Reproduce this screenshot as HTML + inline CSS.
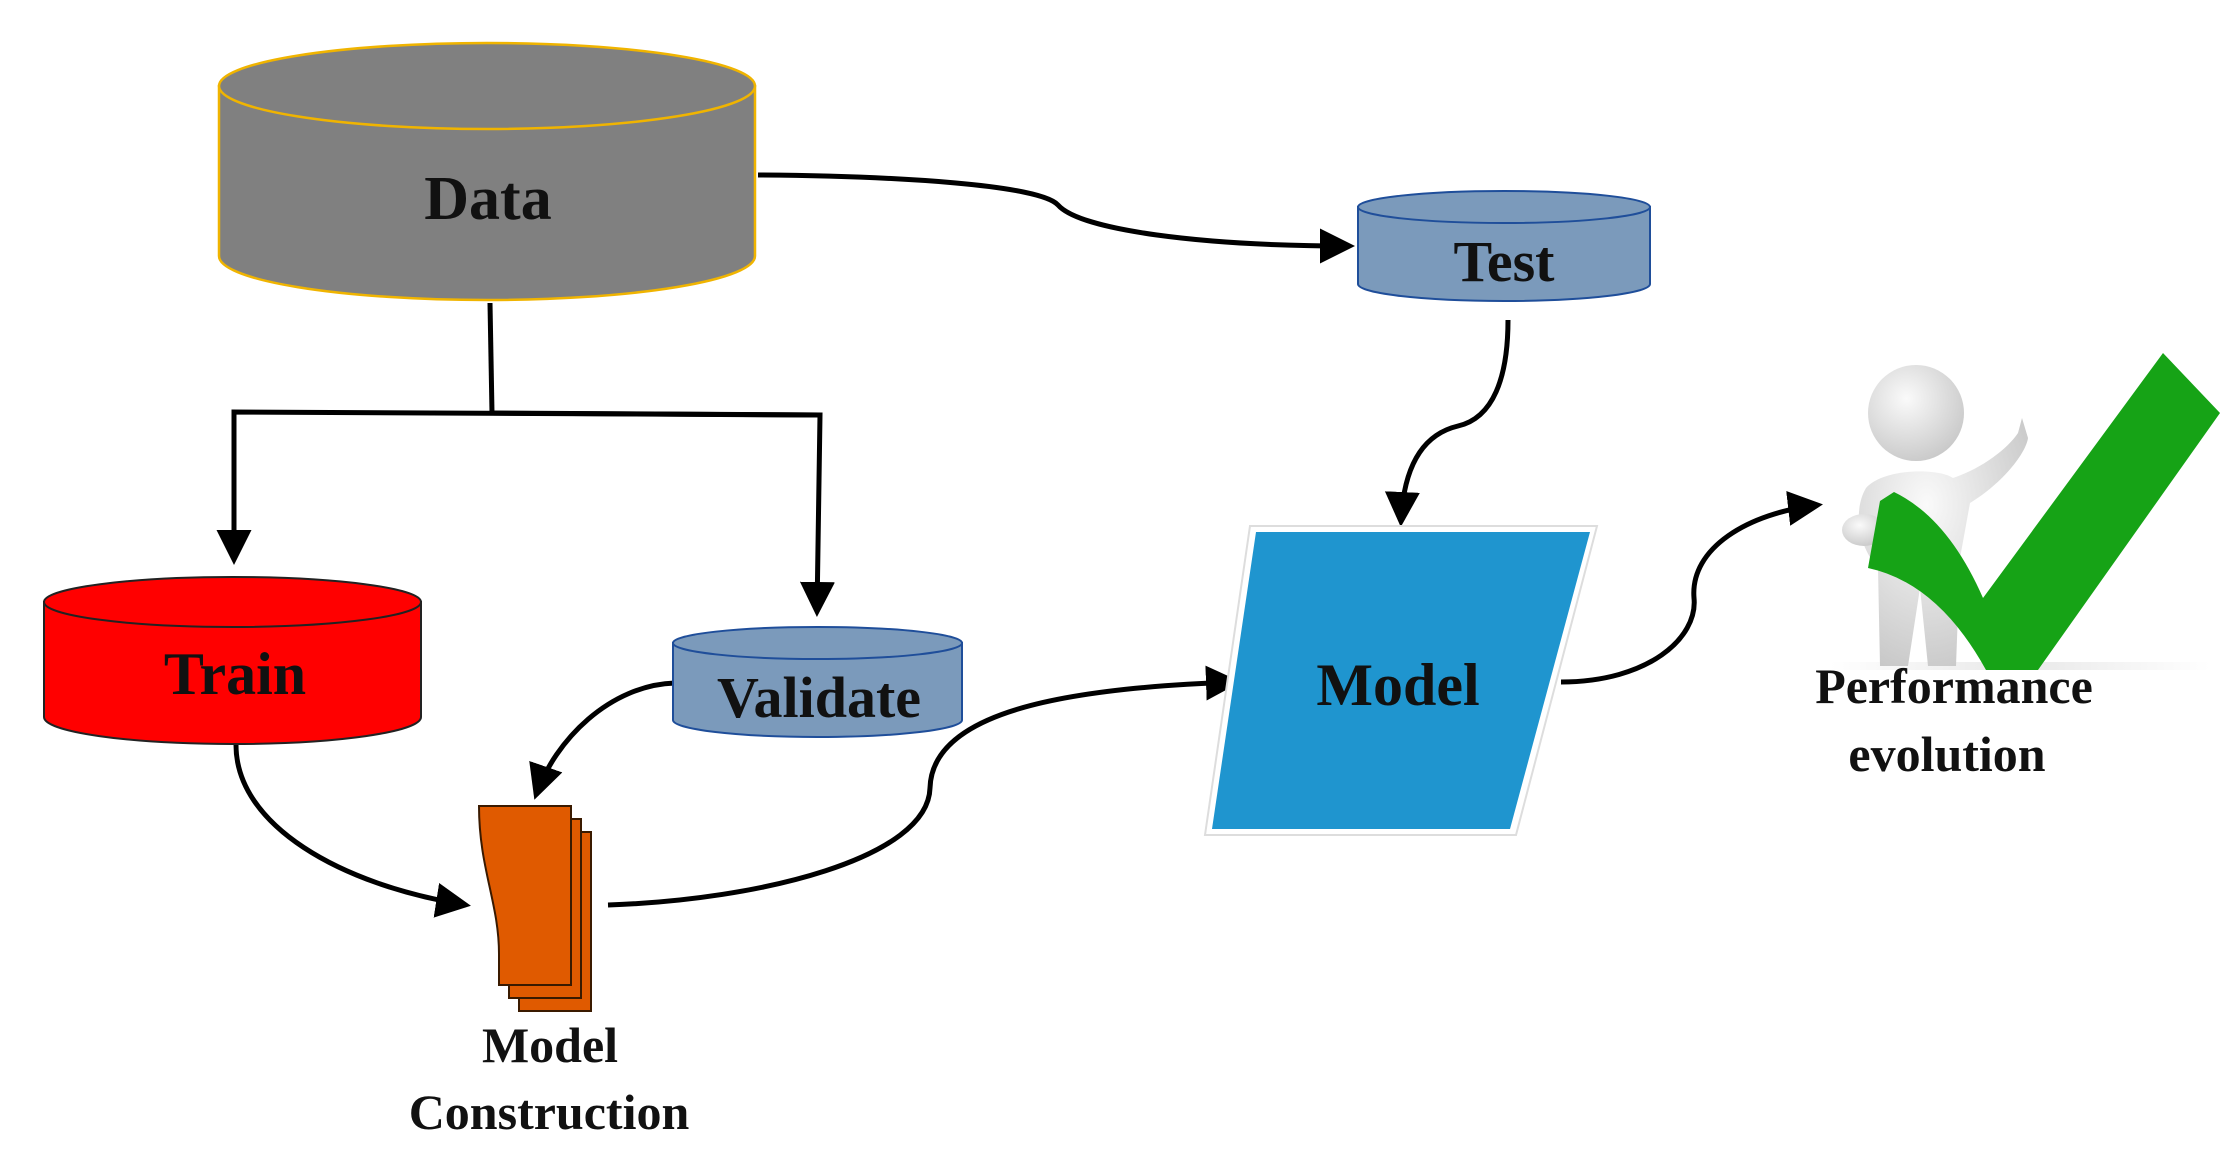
<!DOCTYPE html>
<html><head><meta charset="utf-8"><style>
html,body{margin:0;padding:0;background:#fff;}
svg{display:block;}
text{font-family:"Liberation Serif",serif;font-weight:bold;fill:#111;}
</style></head><body>
<svg width="2232" height="1168" viewBox="0 0 2232 1168" xmlns="http://www.w3.org/2000/svg">
<defs>
<marker id="ah" markerWidth="8" markerHeight="8" refX="6" refY="4" orient="auto" markerUnits="strokeWidth">
<path d="M0,0.5 L7,4 L0,7.5 Z" fill="#000"/></marker>
<radialGradient id="pg" cx="40%" cy="35%" r="70%"><stop offset="0" stop-color="#fafafa"/><stop offset="1" stop-color="#c8c8c8"/></radialGradient>
<linearGradient id="fl" x1="0" x2="1"><stop offset="0" stop-color="#fff"/><stop offset="0.5" stop-color="#e8e8e8"/><stop offset="1" stop-color="#fff"/></linearGradient>
</defs>

<!-- connectors -->
<g fill="none" stroke="#000" stroke-width="5">
<path d="M490,303 L492,413"/>
<path d="M820,415 L234,412 L234,560" marker-end="url(#ah)"/>
<path d="M492,413 L820,415 L817,612" marker-end="url(#ah)"/>
<path d="M758,175 C900,176 1040,185 1058,205 C1080,230 1200,246 1350,246" marker-end="url(#ah)"/>
<path d="M1508,320 C1508,378 1493,418 1458,426 C1416,436 1403,478 1401,522" marker-end="url(#ah)"/>
<path d="M675,683 C610,685 555,740 536,795" marker-end="url(#ah)"/>
<path d="M236,745 C236,825 340,885 466,905" marker-end="url(#ah)"/>
<path d="M608,905 C760,900 928,858 930,788 C932,713 1060,688 1236,682" marker-end="url(#ah)"/>
<path d="M1561,682 C1648,682 1698,638 1694,598 C1690,548 1748,513 1818,505" marker-end="url(#ah)"/>
</g>

<!-- Data cylinder -->
<path d="M219,86 L219,256 A268,44 0 0 0 755,256 L755,86 Z" fill="#808080" stroke="#f0b400" stroke-width="2.5"/>
<ellipse cx="487" cy="86" rx="268" ry="43" fill="#808080" stroke="#f0b400" stroke-width="2.5"/>
<text x="488" y="219" font-size="62" text-anchor="middle">Data</text>

<!-- Train -->
<path d="M44,602 L44,717 A188.5,27 0 0 0 421,717 L421,602 Z" fill="#ff0000" stroke="#222" stroke-width="2"/>
<ellipse cx="232.5" cy="602" rx="188.5" ry="25" fill="#ff0000" stroke="#222" stroke-width="2"/>
<text x="235" y="694" font-size="60" text-anchor="middle">Train</text>

<!-- Validate -->
<path d="M673,643 L673,720 A144.5,17 0 0 0 962,720 L962,643 Z" fill="#7b9abb" stroke="#1f4e9a" stroke-width="2"/>
<ellipse cx="817.5" cy="643" rx="144.5" ry="16" fill="#7b9abb" stroke="#1f4e9a" stroke-width="2"/>
<text x="819" y="717" font-size="58" text-anchor="middle">Validate</text>

<!-- Test -->
<path d="M1358,207 L1358,284 A146,17 0 0 0 1650,284 L1650,207 Z" fill="#7b9abb" stroke="#1f4e9a" stroke-width="2"/>
<ellipse cx="1504" cy="207" rx="146" ry="16" fill="#7b9abb" stroke="#1f4e9a" stroke-width="2"/>
<text x="1504" y="281" font-size="58" text-anchor="middle">Test</text>

<!-- Model construction stack -->
<g fill="#e05a00" stroke="#3a1a00" stroke-width="2">
<path d="M499,832 L591,832 L591,1011 L519,1011 L519,980 C519,938 499,898 499,832 Z"/>
<path d="M489,819 L581,819 L581,998 L509,998 L509,967 C509,925 489,885 489,819 Z"/>
<path d="M479,806 L571,806 L571,985 L499,985 L499,954 C499,903 479,868 479,806 Z"/>
</g>
<text x="550" y="1062" font-size="50" text-anchor="middle">Model</text>
<text x="549" y="1129" font-size="50" text-anchor="middle">Construction</text>

<!-- Model parallelogram -->
<polygon points="1250,526 1597,526 1516,835 1205,835" fill="#fff" stroke="#ddd" stroke-width="2"/>
<polygon points="1256,532 1590,532 1510,829 1212,829" fill="#1f95cf"/>
<text x="1398" y="705" font-size="60" text-anchor="middle">Model</text>

<!-- person + checkmark -->
<rect x="1830" y="662" width="380" height="8" fill="url(#fl)"/>
<g fill="url(#pg)">
<path d="M1866,488 C1884,468 1938,468 1953,478 C1983,468 2008,448 2018,433 L2022,418 L2028,438 C2026,453 2003,483 1970,503 L1960,558 L1956,666 L1928,666 L1920,588 L1908,666 L1880,666 L1878,568 C1858,546 1853,510 1866,488 Z"/>
<circle cx="1916" cy="413" r="48"/>
<ellipse cx="1864" cy="530" rx="22" ry="16"/>
</g>
<path d="M1868,568 L1880,501 L1894,492 Q1948,518 1983,598 L2163,353 L2220,413 L2038,670 L1986,670 Q1938,583 1868,568 Z" fill="#16a316"/>
<text x="1954" y="703" font-size="50" text-anchor="middle">Performance</text>
<text x="1947" y="771" font-size="50" text-anchor="middle">evolution</text>
</svg>
</body></html>
